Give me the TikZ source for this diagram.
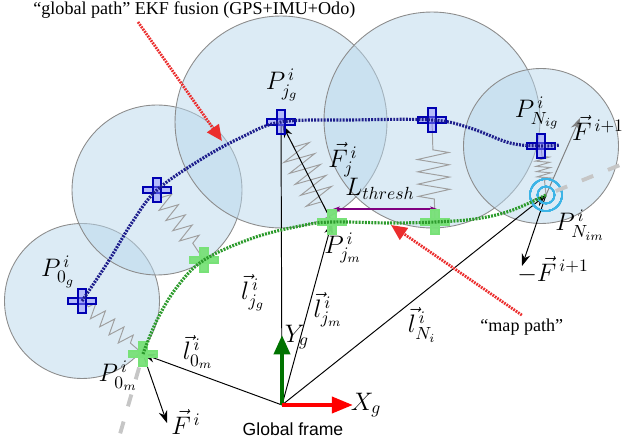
\documentclass[tikz,border=0pt]{standalone}
\usepackage{amsmath}
\usepackage{fontspec}
\setmainfont{Liberation Serif}
\setsansfont{Liberation Sans}
\usetikzlibrary{arrows.meta,decorations.pathmorphing}

\definecolor{covblue}{RGB}{185,215,235}
\definecolor{gpathblue}{RGB}{30,30,140}
\definecolor{mpathgreen}{RGB}{45,155,45}
\definecolor{hintred}{RGB}{235,45,45}
\definecolor{ringcyan}{RGB}{60,180,230}
\definecolor{crossgreen}{RGB}{120,225,120}

\tikzset{
  covcircle/.style={draw=gray!90, fill=covblue, fill opacity=0.5, line width=0.5pt},
  gcross/.style={draw=blue!70!black, fill=blue!45, fill opacity=0.5, line width=0.6pt},
  mcross/.style={draw=crossgreen, fill=crossgreen, fill opacity=0.45, line width=0.7pt},
  pathdots/.style={line width=1.8pt, dash pattern=on 1.1pt off 0.7pt},
  spring/.style={gray!75, line width=0.55pt, decorate, decoration={zigzag, segment length=7pt}},
  vecarrow/.style={-{Stealth[length=7pt,width=5pt]}, line width=0.55pt},
  hint/.style={hintred, line width=1.6pt, dash pattern=on 1pt off 0.6pt, -{Triangle[length=9pt,width=8pt]}},
  extension/.style={gray!45, line width=2.2pt, dash pattern=on 7pt off 9pt},
  lbl/.style={font=\Large, inner sep=0pt}
}

% cross marker: #1 point, #2 style
\newcommand{\plusat}[2]{%
  \draw[#2] ([shift={(-14,-3)}]#1) rectangle ([shift={(14,3)}]#1);
  \draw[#2] ([shift={(-4,-12)}]#1) rectangle ([shift={(4,12)}]#1);
}

\begin{document}
\begin{tikzpicture}[x=0.02cm,y=-0.02cm]
  \useasboundingbox (0,0) rectangle (625,448);

  % points
  \coordinate (O) at (282,405);
  \coordinate (P0g) at (82,301);
  \coordinate (G1) at (157,190);
  \coordinate (Pjg) at (281,122);
  \coordinate (G3) at (432,120);
  \coordinate (PNig) at (541,146);
  \coordinate (P0m) at (143,354);
  \coordinate (M1) at (204,260);
  \coordinate (Pjm) at (332,222);
  \coordinate (M3) at (435,222);
  \coordinate (PNim) at (546,195);
  \coordinate (Xtip) at (353,405);
  \coordinate (Ytip) at (282,335);
  \coordinate (Fi) at (167,423);
  \coordinate (Fnext) at (580,118);
  \coordinate (Fneg) at (522,266);
  \coordinate (Lfrom) at (333,209);
  \coordinate (Lto) at (437,209);
  \coordinate (gpfrom) at (138,22);
  \coordinate (gpto) at (222,141);
  \coordinate (mpto) at (391,225);
  \coordinate (extNE) at (625,163);
  \coordinate (extS) at (116,448);

  % covariance circles
  \foreach \c/\r in {P0g/1.55, G1/1.7, Pjg/2.12, G3/2.16, PNig/1.55}
    \draw[covcircle] (\c) circle[radius=\r cm];

  % springs
  \draw[spring, decoration={amplitude=4.5pt, pre length=5pt, post length=8pt}] (P0g) -- (P0m);
  \draw[spring, decoration={amplitude=5.5pt, pre length=5pt, post length=8pt}] (G1) -- (M1);
  \draw[spring, decoration={amplitude=9pt, pre length=16pt, post length=12pt}] (Pjg) -- (Pjm);
  \draw[spring, decoration={amplitude=9pt, pre length=17pt, post length=10pt}] (G3) -- (M3);
  \draw[spring, decoration={amplitude=4pt, segment length=3pt, pre length=6pt, post length=8pt}] (PNig) -- (PNim);

  % vectors
  \draw[vecarrow] (O) -- (P0m);
  \draw[line width=0.55pt] (O) -- (Pjg);
  \draw[vecarrow] (O) -- (Pjm);
  \draw[vecarrow] (O) -- (PNim);
  \draw[vecarrow, shorten >=2pt] (Pjm) -- (Pjg);
  \draw[vecarrow] (P0m) -- (Fi);
  \draw[vecarrow] (PNim) -- (Fneg);
  \draw[vecarrow, gray] (PNim) -- (Fnext);
  \draw[{Stealth[length=4pt]}-{Stealth[length=4pt]}, violet, line width=0.8pt] (Lfrom) -- (Lto);

  % frame axes
  \draw[-{Triangle[length=11pt,width=9pt]}, line width=2.4pt, green!45!black] (O) -- (Ytip);
  \draw[-{Triangle[length=12pt,width=9pt]}, line width=2.4pt, red] (O) -- (Xtip);

  % crosses
  \foreach \p in {P0g,G1,Pjg,G3,PNig} \plusat{\p}{gcross}
  \foreach \p in {P0m,M1,Pjm,M3} \plusat{\p}{mcross}
  \draw[ringcyan, line width=0.8pt] (PNim) circle[radius=0.32cm] (PNim) circle[radius=0.17cm];

  % the two paths
  \draw[pathdots, gpathblue] plot[smooth, tension=0.6] coordinates {(P0g) (108,262) (133,221) (G1) (200,160) (240,138) (Pjg) (350,120) (G3) (470,128) (510,143) (PNig) (560,145)};
  \draw[pathdots, mpathgreen] plot[smooth, tension=0.6] coordinates {(P0m) (157,320) (177,287) (M1) (253,238) (300,226) (Pjm) (390,223) (M3) (475,219) (510,211) (PNim)};
  \draw[extension, dash phase=-6pt] (PNim) -- (extNE);
  \draw[extension, dash phase=-8pt] (P0m) -- (extS);

  % texts
  \node[anchor=base west, font=\fontsize{10.3}{12}\selectfont, inner sep=0pt] (gptext) at (33,15) {“global path” EKF fusion (GPS+IMU+Odo)};
  \node[anchor=base west, font=\fontsize{10.3}{12}\selectfont, inner sep=0pt] (mptext) at (480,332) {“map path”};
  \draw[hint] (gpfrom) -- (gpto);
  \draw[hint] ([shift={(0,-4)}]mptext.north) -- (mpto);

  \node[lbl] (lP0g) at (58,272) {$P^{\,i}_{0_g}$};
  \node[lbl] (lPjg) at (282,85) {$P^{\,i}_{j_g}$};
  \node[lbl] (lFj) at (343,160) {$\vec{F}^{\,i}_{j}$};
  \node[lbl] (lL) at (380,189) {$L_{thresh}$};
  \node[lbl] (lPNig) at (537,113) {$P^{\,i}_{N_{ig}}$};
  \node[lbl] (lFnext) at (598,128) {$\vec{F}^{\,i+1}$};
  \node[lbl] (lPjm) at (343,248) {$P^{\,i}_{j_m}$};
  \node[lbl] (lPNim) at (580,225) {$P^{\,i}_{N_{im}}$};
  \node[lbl] (lFneg) at (553,270) {$-\vec{F}^{\,i+1}$};
  \node[lbl] (lljg) at (253,293) {$\vec{l}^{\,i}_{j_g}$};
  \node[lbl] (lljm) at (328,310) {$\vec{l}^{\,i}_{j_m}$};
  \node[lbl] (llN) at (422,325) {$\vec{l}^{\,i}_{N_i}$};
  \node[lbl] (ll0m) at (198,352) {$\vec{l}^{\,i}_{0_m}$};
  \node[lbl] (lP0m) at (118,376) {$P^{\,i}_{0_m}$};
  \node[lbl] (lFi) at (186,422) {$\vec{F}^{\,i}$};
  \node[lbl] (lY) at (297,337) {$Y_g$};
  \node[lbl] (lX) at (366,405) {$X_g$};
  \node[font=\sffamily, inner sep=0pt] (gframe) at (293,429) {Global frame};
\end{tikzpicture}
\end{document}
